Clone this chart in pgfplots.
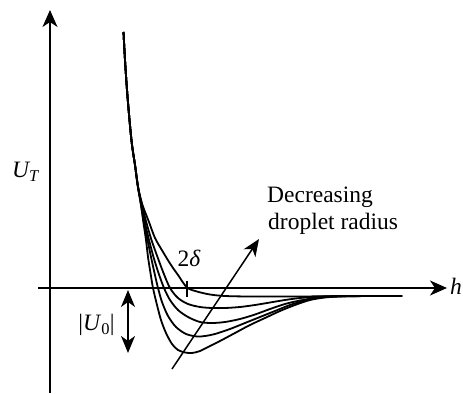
\documentclass[border=0pt]{standalone}
\usepackage{fontspec}
\setmainfont{Liberation Serif}
\usepackage{pgfplots}
\pgfplotsset{compat=1.18}
\usetikzlibrary{arrows.meta}
\pgfplotsset{curve/.style={black, line width=1.8bp, no marks, smooth, tension=0.5}}
\begin{document}
\begin{tikzpicture}
\rmfamily\fontsize{23.5bp}{27bp}\selectfont
\begin{axis}[
  scale only axis, width=409bp, height=383bp,
  xmin=-12, xmax=397, ymin=-105, ymax=278,
  axis lines=middle, xtick=\empty, ytick=\empty,
  clip=false,
  axis line style={line width=1.5bp},
  x axis line style={-{Stealth[length=17bp,width=15bp,inset=5bp]}},
  y axis line style={-{Stealth[length=17bp,width=15bp,inset=5bp]}},
]
% curve 5 (deepest)
\addplot[curve] coordinates {(73.5,256)(75,228)(77,198)(79.5,168)(82,143)(85,123)(88,101)(91,83)
 (93.5,65)(96,48)(98,31)(100.5,15)(103,0)(107,-17)(111,-32)(116,-45)(122,-56)(128,-62)
 (135,-64.5)(142,-65)(150,-63)(160,-58)(170,-53)(185,-45)(200,-37)(215,-30)(230,-23)
 (245,-17)(260,-12)(275,-9.5)(290,-8.5)(320,-8)(352,-8)};
% curve 4
\addplot[curve] coordinates {(73.5,256)(75,228)(77,198)(79.5,168)(82,143)(85,123)(88,101)(91,83)
 (94,65)(97.5,48)(101,31)(104.5,15)(108,0)(112,-14)(118,-28)(126,-39)(136,-46)(147,-48.5)
 (155,-48)(165,-46)(180,-41)(195,-35)(210,-29)(225,-23)(240,-17)(255,-12.5)(270,-9.5)
 (285,-8.5)(320,-8)(352,-8)};
% curve 3
\addplot[curve] coordinates {(73.5,256)(75,228)(77,198)(79.5,168)(82,143)(85,123)(88,101)(91.5,83)
 (95,65)(99,48)(103.5,31)(108.5,15)(114,0)(120,-12)(128,-22)(138,-29)(150,-34)(162,-35)
 (175,-34)(190,-31)(205,-26.5)(220,-21)(235,-16)(250,-12.5)(265,-10)(280,-8.5)(320,-8)(352,-8)};
% curve 2
\addplot[curve] coordinates {(73.5,256)(75,228)(77,198)(79.5,168)(82,143)(85,123)(88,101)(92,83)
 (96.5,65)(101.5,48)(107.5,31)(113.5,15)(120,0)(128,-10)(138,-16)(150,-19)(162,-20)
 (175,-20)(190,-19)(205,-17)(220,-14.5)(235,-12)(250,-10)(270,-8.5)(295,-8)(352,-8)};
% curve 1 (shallowest)
\addplot[curve] coordinates {(73.5,256)(75,228)(77,198)(79.5,168)(82,143)(85,123)(88,101)(92.5,83)
 (99,66)(105,50)(113,36)(121,23)(128,13)(137,0.5)(147,-3.5)(160,-6.5)(175,-8)(200,-8.5)
 (250,-8.5)(300,-8)(352,-8)};
% annotations
\draw[line width=1.5bp] (axis cs:137,7) -- (axis cs:137,-9);
\draw[line width=1.5bp, -{Stealth[length=17bp,width=14bp,inset=5bp]}] (axis cs:122,-81) -- (axis cs:209,49);
\draw[line width=1.5bp, {Stealth[length=17bp,width=14bp,inset=5bp]}-{Stealth[length=17bp,width=14bp,inset=5bp]}] (axis cs:78,-2) -- (axis cs:78,-65);
\node[anchor=base west, inner sep=0pt] at (axis cs:-38,110) {\itshape U\textsubscript{T}};
\node[anchor=base, inner sep=0pt] at (axis cs:46.5,-43) {|\textit{U}\textsubscript{0}|};
\node[anchor=base, inner sep=0pt] at (axis cs:139,21) {2\textit{δ}};
\node[anchor=base west, inner sep=0pt] at (axis cs:217,85) {Decreasing};
\node[anchor=base west, inner sep=0pt] at (axis cs:218,58) {droplet radius};
\node[anchor=base west, inner sep=0pt] at (axis cs:400,-7) {\itshape h};
\coordinate (bl) at (axis cs:-50,-106);
\coordinate (tr) at (axis cs:413,288);
\end{axis}
\pgfresetboundingbox
\useasboundingbox (bl) rectangle (tr);
\end{tikzpicture}
\end{document}
